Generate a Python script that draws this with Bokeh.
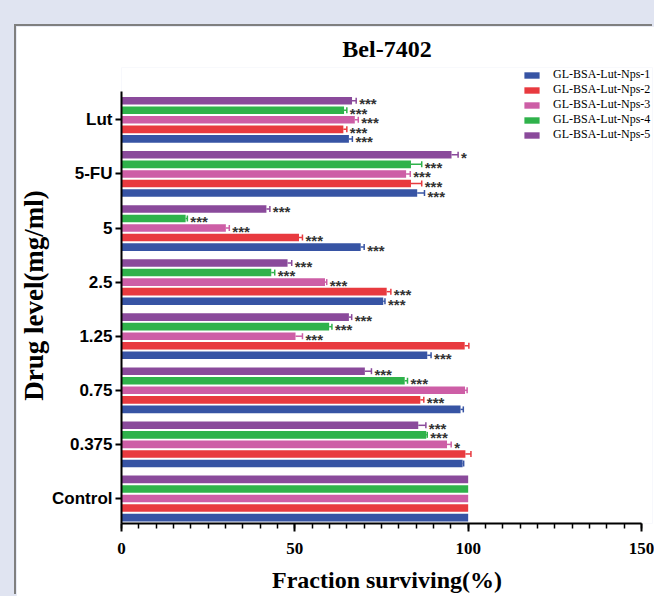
from bokeh.plotting import figure
from bokeh.models import (FixedTicker, ColumnDataSource, Whisker, TeeHead, Legend,
                          LegendItem, Range1d)
from bokeh.layouts import column
from bokeh.core.properties import value
from bokeh.embed import file_html
from bokeh.resources import INLINE

# ---------------- data ----------------
categories = ["Control", "0.375", "0.75", "1.25", "2.5", "5", "5-FU", "Lut"]
series_names = ["GL-BSA-Lut-Nps-1", "GL-BSA-Lut-Nps-2", "GL-BSA-Lut-Nps-3",
                "GL-BSA-Lut-Nps-4", "GL-BSA-Lut-Nps-5"]

nps1 = [100, 98.4, 97.8, 88.2, 75.5, 69.0, 85.3, 65.6]
nps2 = [100, 99.2, 86.2, 99.0, 76.5, 51.2, 83.5, 64.0]
nps3 = [100, 93.9, 99.1, 50.2, 58.7, 30.1, 82.1, 67.3]
nps4 = [100, 87.9, 81.7, 59.9, 43.2, 18.5, 83.5, 64.2]
nps5 = [100, 85.6, 70.2, 65.6, 47.9, 41.8, 95.2, 66.5]

err1 = [0, 0.3, 0.8, 1.1, 0.5, 1.0, 2.1, 1.0]
err2 = [0, 1.6, 1.0, 1.2, 1.2, 1.0, 3.1, 1.0]
err3 = [0, 1.2, 0.6, 2.0, 0.5, 1.0, 1.2, 1.0]
err4 = [0, 0.3, 0.8, 0.8, 1.0, 0.5, 3.1, 0.8]
err5 = [0, 2.2, 1.9, 0.8, 1.2, 1.0, 1.9, 1.2]

sig1 = ["", "", "", "***", "***", "***", "***", "***"]
sig2 = ["", "", "***", "", "***", "***", "***", "***"]
sig3 = ["", "*", "", "***", "***", "***", "***", "***"]
sig4 = ["", "***", "***", "***", "***", "***", "***", "***"]
sig5 = ["", "***", "***", "***", "***", "***", "*", "***"]

x_ticks = [0, 50, 100, 150]

# ---------------- style ----------------
colors = ["#3754a4", "#e83a3f", "#cd5ea6", "#2fb24b", "#8a4a9b"]
values_all = [nps1, nps2, nps3, nps4, nps5]
errs_all = [err1, err2, err3, err4, err5]
sigs_all = [sig1, sig2, sig3, sig4, sig5]

step = 0.1765
bar_h = 0.14

# frame spans a little past 150 so the legend fits; axis line stops at 150
x_end = 150 * (652 - 121) / (641 - 121)

p = figure(width=638, height=570,
           x_range=Range1d(0, x_end), y_range=Range1d(-0.462, 7.967),
           output_backend="svg", toolbar_location=None,
           min_border_left=105, min_border_right=2,
           min_border_top=41, min_border_bottom=73,
           outline_line_color=None, background_fill_color="white",
           border_fill_color="white")

p.title.text = "Bel-7402"
p.title.align = "center"
p.title.text_font = "Liberation Serif"
p.title.text_font_style = "bold"
p.title.text_font_size = "24px"
p.title.text_color = "black"
p.title.standoff = 11

p.xgrid.grid_line_color = None
p.ygrid.grid_line_color = None

renderers = []
for k in range(5):
    ys = [i + (k - 2) * step for i in range(len(categories))]
    vals = values_all[k]
    errs = errs_all[k]
    src = ColumnDataSource(dict(y=ys, v=vals, hi=[a + b for a, b in zip(vals, errs)],
                                sig=sigs_all[k]))
    r = p.hbar(y="y", left=0, right="v", height=bar_h, source=src,
               fill_color=colors[k], line_color=None)
    renderers.append(r)
    wy = [y for y, e in zip(ys, errs) if e > 0]
    wv = [v for v, e in zip(vals, errs) if e > 0]
    wh = [v + e for v, e in zip(vals, errs) if e > 0]
    wsrc = ColumnDataSource(dict(y=wy, v=wv, hi=wh))
    w = Whisker(source=wsrc, base="y", lower="v", upper="hi", dimension="width",
                line_color=colors[k], line_width=1.5,
                upper_head=TeeHead(size=6, line_color=colors[k], line_width=1.5),
                lower_head=None)
    p.add_layout(w)
    p.text(x="hi", y="y", text="sig", source=src,
           text_font=value("Liberation Sans"), text_font_style="bold",
           text_font_size="15px", text_color="#333333",
           text_align="left", text_baseline="middle", x_offset=3, y_offset=3)

# axes
xa = p.xaxis[0]
xa.ticker = FixedTicker(ticks=x_ticks, minor_ticks=list(range(0, 151, 5)))
xa.bounds = (0, 150)
xa.axis_label = "Fraction surviving(%)"
xa.axis_label_text_font = "Liberation Serif"
xa.axis_label_text_font_style = "bold"
xa.axis_label_text_font_size = "24px"
xa.axis_label_text_color = "black"
xa.axis_label_standoff = 10
xa.major_label_text_font = "Liberation Serif"
xa.major_label_text_font_style = "bold"
xa.major_label_text_font_size = "17px"
xa.major_label_text_color = "black"
xa.major_label_standoff = 11
xa.axis_line_color = "black"
xa.axis_line_width = 2
xa.major_tick_line_color = "black"
xa.major_tick_line_width = 2
xa.major_tick_out = 8
xa.major_tick_in = 0
xa.minor_tick_line_color = "black"
xa.minor_tick_line_width = 1.5
xa.minor_tick_out = 5
xa.minor_tick_in = 0

ya = p.yaxis[0]
ya.ticker = FixedTicker(ticks=list(range(len(categories))))
ya.major_label_overrides = {i: c for i, c in enumerate(categories)}
ya.bounds = (-0.462, 7.523)
ya.axis_label = "Drug level(mg/ml)"
ya.axis_label_text_font = "Liberation Serif"
ya.axis_label_text_font_style = "bold"
ya.axis_label_text_font_size = "27px"
ya.axis_label_text_color = "black"
ya.axis_label_standoff = 0
ya.major_label_text_font = "Liberation Sans"
ya.major_label_text_font_style = "bold"
ya.major_label_text_font_size = "17px"
ya.major_label_text_color = "black"
ya.major_label_standoff = 3
ya.axis_line_color = "black"
ya.axis_line_width = 2
ya.major_tick_line_color = "black"
ya.major_tick_line_width = 2
ya.major_tick_out = 6
ya.major_tick_in = 0
ya.minor_tick_line_color = None

legend = Legend(items=[LegendItem(label=series_names[k], renderers=[renderers[k]])
                       for k in range(5)],
                location=(401, 381), orientation="vertical",
                border_line_color=None, background_fill_alpha=0,
                padding=0, margin=0, spacing=0,
                glyph_width=19, glyph_height=8, label_height=15,
                label_standoff=12, label_text_font="Liberation Serif",
                label_text_font_size="12px", label_text_color="black")
p.add_layout(legend)

p.margin = (26, 0, 0, 16)
p.styles = {"box-shadow": "-2px -2px 0 0 #7f7f7f"}

layout = column(p, styles={"background-color": "#e0e4f1"})

open("out.html", "w").write(file_html(layout, INLINE))
